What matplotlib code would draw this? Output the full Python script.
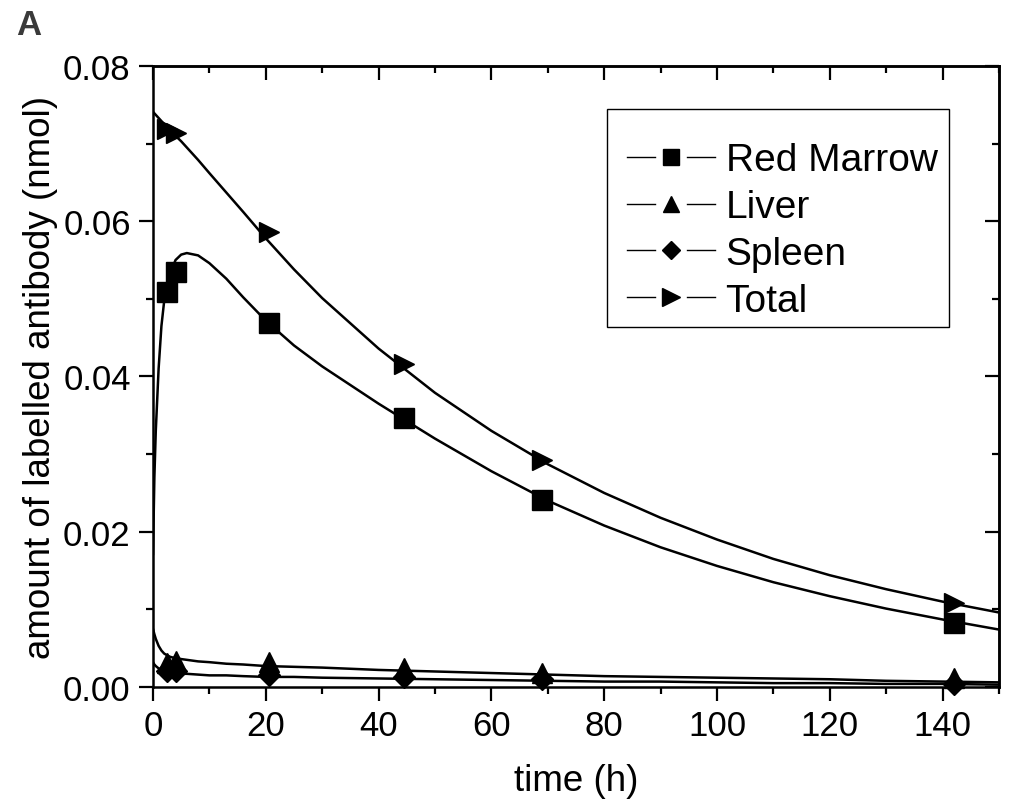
import numpy as np
import matplotlib
matplotlib.use('Agg')
import matplotlib.pyplot as plt
from matplotlib.lines import Line2D
from matplotlib.patches import Rectangle
from matplotlib.legend_handler import HandlerBase
from matplotlib.ticker import MultipleLocator, FormatStrFormatter

plt.rcParams['font.family'] = ['Liberation Sans', 'DejaVu Sans']

# measured points
t_pts = [2.5, 4.0, 20.5, 44.5, 69.0, 142.0]
marrow_pts = [0.0509, 0.0534, 0.0469, 0.0347, 0.0241, 0.0083]
liver_pts = [0.0031, 0.0034, 0.0032, 0.0025, 0.0018, 0.0012]
spleen_pts = [0.0021, 0.0020, 0.0016, 0.0013, 0.0010, 0.0004]
total_pts = [0.0719, 0.0714, 0.0586, 0.0416, 0.0292, 0.0108]

# fitted curves
t_fit = [0, 0.25, 0.5, 1, 1.5, 2, 3, 4, 5, 6, 8, 10, 13, 16, 20, 25, 30, 40, 50,
         60, 70, 80, 90, 100, 110, 120, 130, 140, 150]
marrow_fit = [0.0170, 0.0270, 0.0330, 0.0410, 0.0465, 0.0498, 0.0532, 0.0550, 0.0557,
              0.0559, 0.0556, 0.0546, 0.0526, 0.0502, 0.0472, 0.0440, 0.0413, 0.0365,
              0.0320, 0.0278, 0.0240, 0.0208, 0.0180, 0.0156, 0.0135, 0.0117, 0.0101,
              0.0087, 0.0074]
liver_fit = [0.0075, 0.0068, 0.0062, 0.0053, 0.0047, 0.0043, 0.0039, 0.0037, 0.0036,
             0.0035, 0.0033, 0.0032, 0.0030, 0.0029, 0.0027, 0.0026, 0.0025, 0.0022,
             0.0020, 0.0018, 0.0016, 0.0014, 0.0013, 0.0012, 0.0011, 0.0010, 0.0008,
             0.0007, 0.0006]
spleen_fit = [0.0032, 0.0029, 0.0027, 0.0024, 0.0022, 0.0020, 0.0019, 0.0018, 0.0017,
              0.0017, 0.0016, 0.0015, 0.0015, 0.0014, 0.0013, 0.0013, 0.0012, 0.0011,
              0.0010, 0.0009, 0.0008, 0.0007, 0.0007, 0.0006, 0.0005, 0.0005, 0.0004,
              0.0004, 0.0003]
total_fit = [0.0741, 0.0739, 0.0737, 0.0733, 0.0729, 0.0725, 0.0718, 0.0710, 0.0703,
             0.0695, 0.0679, 0.0662, 0.0637, 0.0612, 0.0578, 0.0538, 0.0501, 0.0436,
             0.0379, 0.0330, 0.0287, 0.0250, 0.0218, 0.0190, 0.0165, 0.0144, 0.0126,
             0.0110, 0.0096]

labels = ['Red Marrow', 'Liver', 'Spleen', 'Total']
markers = ['s', '^', 'D', '>']
msizes = [14, 14, 11, 15]

fig = plt.figure(figsize=(10.11, 8.03), dpi=100)
ax = fig.add_axes([0.1513, 0.1432, 0.8368, 0.7734])

series = [(marrow_pts, marrow_fit), (liver_pts, liver_fit),
          (spleen_pts, spleen_fit), (total_pts, total_fit)]
handles = []
for (pts, fit), m, ms, lab in zip(series, markers, msizes, labels):
    ax.plot(t_fit, fit, color='black', lw=1.8, solid_capstyle='round', zorder=2)
    ax.plot(t_pts, pts, ls='none', marker=m, ms=ms, color='black', zorder=3, clip_on=False)
    handles.append(Line2D([], [], color='black', marker=m, ms=ms * 0.85, lw=1, label=lab))


class GapHandler(HandlerBase):
    # Origin-style legend entry: line, gap, marker, gap, line
    def create_artists(self, legend, orig_handle, xdescent, ydescent,
                       width, height, fontsize, trans):
        y = height / 2 - ydescent
        x0 = -xdescent
        l1 = Line2D([x0, x0 + 0.32 * width], [y, y], color='black', lw=1)
        l2 = Line2D([x0 + 0.68 * width, x0 + width], [y, y], color='black', lw=1)
        mk = Line2D([x0 + 0.5 * width], [y], ls='none', marker=orig_handle.get_marker(),
                    ms=orig_handle.get_markersize(), color='black')
        for a in (l1, l2, mk):
            a.set_transform(trans)
        return [l1, l2, mk]


# legend frame drawn separately so the entries can sit low in the box
ax.add_patch(Rectangle((0.5366, 0.5797), 0.9409 - 0.5366, 0.9308 - 0.5797,
                       transform=ax.transAxes, facecolor='white', edgecolor='black',
                       lw=1.0, zorder=4))
leg = ax.legend(handles=handles, loc='upper right', bbox_to_anchor=(0.9504, 0.9085),
                borderaxespad=0, fontsize=28, handlelength=2.26, handletextpad=0.28,
                labelspacing=0.28, borderpad=0.5, frameon=False,
                handler_map={Line2D: GapHandler()})
leg.set_zorder(5)

ax.set_xlim(0, 150)
ax.set_ylim(0, 0.08)
ax.xaxis.set_major_locator(MultipleLocator(20))
ax.xaxis.set_minor_locator(MultipleLocator(10))
ax.yaxis.set_major_locator(MultipleLocator(0.02))
ax.yaxis.set_minor_locator(MultipleLocator(0.01))
ax.yaxis.set_major_formatter(FormatStrFormatter('%.2f'))
ax.tick_params(which='major', direction='out', length=10, width=1.6, labelsize=25, pad=6)
ax.tick_params(which='minor', direction='out', length=5, width=1.6)
for s in ax.spines.values():
    s.set_linewidth(1.8)

top = ax.secondary_xaxis('top')
top.xaxis.set_major_locator(MultipleLocator(20))
top.xaxis.set_minor_locator(MultipleLocator(10))
top.tick_params(which='major', direction='in', length=10, width=1.6, labeltop=False)
top.tick_params(which='minor', direction='in', length=5, width=1.6)
top.spines['top'].set_linewidth(1.8)
right = ax.secondary_yaxis('right')
right.yaxis.set_major_locator(MultipleLocator(0.02))
right.yaxis.set_minor_locator(MultipleLocator(0.01))
right.tick_params(which='major', direction='in', length=10, width=1.6, labelright=False)
right.tick_params(which='minor', direction='in', length=5, width=1.6)
right.spines['right'].set_linewidth(1.8)

ax.set_xlabel('time (h)', fontsize=26.5, labelpad=15)
ax.set_ylabel('amount of labelled antibody (nmol)', fontsize=26.5, labelpad=4)

fig.text(0.016, 0.957, 'A', fontsize=25, fontweight='bold', color='#3a3a3a',
         ha='left', va='baseline')

fig.savefig('out.png', dpi=100)
